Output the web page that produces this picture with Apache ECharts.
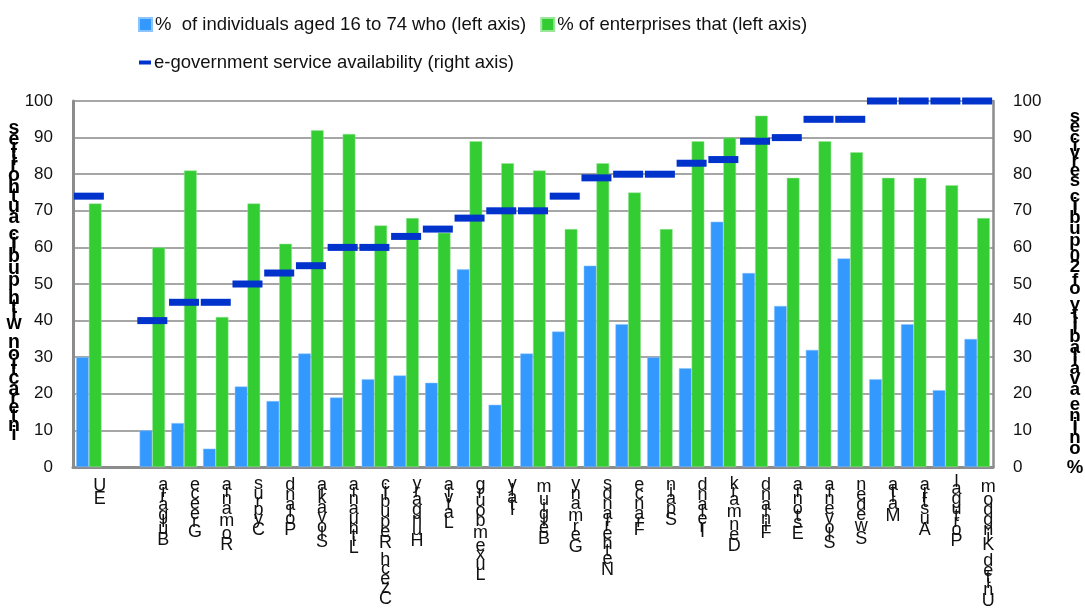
<!DOCTYPE html>
<html><head><meta charset="utf-8">
<script src="https://cdn.jsdelivr.net/npm/echarts@6/dist/echarts.min.js"></script>
<style>html,body{margin:0;padding:0;background:#fff}#c{width:1085px;height:612px}</style>
</head><body><div id="c"></div>
<script>
// ---- data ----
const categories = ['EU', '', 'Bulgaria', 'Greece', 'Romania', 'Cyprus', 'Poland', 'Slovakia', 'Lithuania',
  'Czech Republic', 'Hungary', 'Latvia', 'Luxembourg', 'Italy', 'Belgium', 'Germany', 'Netherlands', 'France',
  'Spain', 'Ireland', 'Denmark', 'Finland', 'Estonia', 'Slovenia', 'Sweden', 'Malta', 'Austria', 'Portugal',
  'United Kingdom'];
const individuals = [30, null, 10, 12, 5, 22, 18, 31, 19, 24, 25, 23, 54, 17, 31, 37, 55, 39, 30, 27, 67, 53, 44, 32, 57, 24, 39, 21, 35];
const enterprises = [72, null, 60, 81, 41, 72, 61, 92, 91, 66, 68, 64, 89, 83, 81, 65, 83, 75, 65, 89, 90, 96, 79, 89, 86, 79, 79, 77, 68];
const egov = [74, null, 40, 45, 45, 50, 53, 55, 60, 60, 63, 65, 68, 70, 70, 74, 79, 80, 80, 83, 84, 89, 90, 95, 95, 100, 100, 100, 100];
const axisMin = 0, axisMax = 100, axisStep = 10;
const seriesNames = ['%  of individuals aged 16 to 74 who (left axis)', '% of enterprises that (left axis)', 'e-government service availability (right axis)'];
const leftTitle = 'interaction with public authorities';
const rightTitle = '% online availability of 20 public services';

// ---- helpers: stacked upright glyphs, read bottom-to-top ----
const FONT = "'Liberation Sans', Arial, sans-serif";
const mctx = document.createElement('canvas').getContext('2d');
function stacked(str, size, weight) {
  mctx.font = weight + ' ' + size + 'px ' + FONT;
  return str.split('').reverse().map(function (ch) {
    let k = Math.round(mctx.measureText(ch).width * 2);
    k = Math.max(1, Math.min(100, k));
    return '{h' + k + '|' + ch + '}';
  }).join('\n');
}
function richSet(size, weight, color) {
  const r = {};
  for (let k = 1; k <= 100; k++) {
    r['h' + k] = { lineHeight: k / 2, fontSize: size, fontWeight: weight, fontFamily: FONT, color: color, align: 'center' };
  }
  return r;
}

const chart = echarts.init(document.getElementById('c'), null, { renderer: 'canvas' });
const gridCol = '#a6a6a6';
const axisCol = '#8c8c8c';
chart.setOption({
  animation: false,
  backgroundColor: '#fff',
  textStyle: { fontFamily: FONT },
  grid: { left: 73, top: 101, width: 920, height: 366, containLabel: false },
  legend: [
    { data: [seriesNames[0], seriesNames[1]], left: 138, top: 15, padding: 0, itemGap: 14,
      itemWidth: 13, itemHeight: 13, icon: 'rect',
      textStyle: { fontSize: 18.5, color: '#111', fontFamily: FONT, padding: [0, 0, 0, -2] } },
    { data: [seriesNames[2]], left: 139, top: 53, padding: 0,
      itemWidth: 12, itemHeight: 4, icon: 'rect',
      textStyle: { fontSize: 18.5, color: '#111', fontFamily: FONT, padding: [0, 0, 0, -2] } }
  ],
  xAxis: {
    type: 'category', data: categories,
    axisLine: { show: true, lineStyle: { color: axisCol, width: 3 } },
    axisTick: { show: false },
    splitLine: { show: false },
    axisLabel: {
      interval: 0, margin: 13, padding: [0, 0, 0, 22], verticalAlign: 'top',
      formatter: function (v) { return stacked(v, 18, 'normal'); },
      rich: richSet(18, 'normal', '#111')
    }
  },
  yAxis: [
    { type: 'value', min: axisMin, max: axisMax, interval: axisStep, position: 'left',
      axisLine: { show: true, lineStyle: { color: axisCol, width: 3 } },
      axisTick: { show: false },
      splitLine: { show: true, lineStyle: { color: gridCol, width: 2 } },
      axisLabel: { fontSize: 17, color: '#111', margin: 20, fontFamily: FONT } },
    { type: 'value', min: axisMin, max: axisMax, interval: axisStep, position: 'right',
      axisLine: { show: true, lineStyle: { color: axisCol, width: 2.5 } },
      axisTick: { show: false },
      splitLine: { show: false },
      axisLabel: { fontSize: 17, color: '#111', margin: 20, fontFamily: FONT } }
  ],
  graphic: [
    { type: 'text', x: 14, y: 280, silent: true,
      style: { text: stacked(leftTitle, 19.5, 'bold'), rich: richSet(19.5, 'bold', '#111'),
        align: 'center', verticalAlign: 'middle' } },
    { type: 'text', x: 1075, y: 294, silent: true,
      style: { text: stacked(rightTitle, 18.6, 'bold'), rich: richSet(18.6, 'bold', '#111'),
        align: 'center', verticalAlign: 'middle' } }
  ],
  series: [
    { name: seriesNames[0], type: 'bar', data: individuals, yAxisIndex: 0,
      barCategoryGap: '20%', barGap: '0%',
      itemStyle: { color: '#3399ff', borderColor: '#8cc4ff', borderWidth: 0.5 } },
    { name: seriesNames[1], type: 'bar', data: enterprises, yAxisIndex: 0,
      barCategoryGap: '20%', barGap: '0%',
      itemStyle: { color: '#33cc33', borderColor: '#99e699', borderWidth: 0.5 } },
    { name: seriesNames[2], type: 'scatter', data: egov, yAxisIndex: 1, z: 5,
      symbol: 'rect', symbolSize: [30, 7],
      itemStyle: { color: '#0033cc', opacity: 1 } }
  ]
});
</script>
</body></html>
